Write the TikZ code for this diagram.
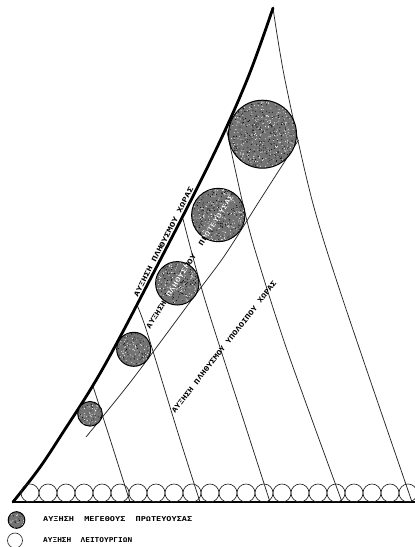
\documentclass[tikz,border=0pt]{standalone}
\usepackage{fontspec}
\usepackage{graphicx}
\newfontfamily\lettering{DejaVu Sans Mono}
\newcommand{\lbl}[2]{\resizebox{#1pt}{5pt}{\lettering\bfseries #2}}
\newcommand{\speckle}[2]{%
  \begin{scope}
    \clip (#1.center) circle[radius=#2pt];
    \pgfmathtruncatemacro{\nd}{#2*#2*0.32}
    \foreach \k in {1,...,\nd} {
      \fill[white] (#1.center) ++({rand*#2},{rand*#2}) circle[radius=0.5pt];
      \fill[black] (#1.center) ++({rand*#2},{rand*#2}) circle[radius=0.5pt];
    }
  \end{scope}}
\begin{document}
\begin{tikzpicture}[x=1pt,y=-1pt,
  guide/.style={line width=0.75pt, black!85, line join=round},
  heavy/.style={line width=2.8pt, line cap=round, line join=round},
  popc/.style={circle, draw=black, line width=1pt, fill=black!55, inner sep=0pt},
  func/.style={circle, draw=black!85, line width=0.65pt, inner sep=0pt, minimum size=18pt},
  lab/.style={inner sep=0pt, anchor=center, text=black},
  wlab/.style={inner sep=0pt, anchor=center, text=white}]
\useasboundingbox (0,0) rectangle (415,547);
\pgfmathsetseed{7}

% slanted family of curves
\draw[guide] plot[smooth] coordinates {(92.6,385) (111,442) (130,502)};
\draw[guide] plot[smooth] coordinates {(137,305) (147,332) (178,433) (200,502)};
\draw[guide] plot[smooth] coordinates {(183,219) (205,300) (250,440) (270,502)};
\draw[guide] plot[smooth] coordinates {(226,127) (242,200) (255,250) (287,350) (342,502)};
\draw[guide] plot[smooth] coordinates {(273,8) (285,80) (312,200) (343,300) (412,502)};
% thin line below the capital circles
\draw[guide] plot[smooth] coordinates {(86,437) (132,380) (193,298) (225,255) (260,200) (298.5,140)};
% baseline
\draw[line width=1.3pt] (13,502) -- (415,502);
% thick line
\draw[heavy] plot[smooth, tension=0.6] coordinates {(13,502) (38,470) (60,437) (102,370) (155,270) (211,160) (247,80) (273,8)};

% row of function circles
\foreach \i in {0,...,21} \node[func] (f\i) at ({30+18*\i},493) {};

% capital circles
\node[popc, minimum size=24.6pt] (c1) at (90,413.8) {};
\node[popc, minimum size=34pt] (c2) at (133.7,349.3) {};
\node[popc, minimum size=43.4pt] (c3) at (177.3,283.3) {};
\node[popc, minimum size=53.4pt] (c4) at (218.3,215) {};
\node[popc, minimum size=68pt] (c5) at (262.5,134.2) {};
\speckle{c1}{11.7}
\speckle{c2}{16.4}
\speckle{c3}{21.1}
\speckle{c4}{26.1}
\speckle{c5}{33.4}

% labels
\node[lab, rotate=62.8] (l1) at (163.5,242) {\lbl{122}{ΑΥΞΗΣΗ ΠΛΗΘΥΣΜΟΥ ΧΩΡΑΣ}};
\node[lab, rotate=57.7] (l2a) at (156.3,314.9) {\lbl{31}{ΑΥΞΗΣΗ}};
\node[lab, rotate=57.7] (l2b) at (181.1,275.5) {\lbl{50}{ΠΛΗΘΥΣΜΟΥ}};
\node[lab, rotate=57.7] (l2c) at (216.1,220.1) {\lbl{59}{ΠΡΩΤΕΥΟΥΣΑΣ}};
\begin{scope}
  \clip (c3.center) circle[radius=21pt];
  \node[wlab, rotate=57.7] (w2b) at (181.1,275.5) {\lbl{50}{ΠΛΗΘΥΣΜΟΥ}};
\end{scope}
\begin{scope}
  \clip (c4.center) circle[radius=26pt];
  \node[wlab, rotate=57.7] (w2c) at (216.1,220.1) {\lbl{59}{ΠΡΩΤΕΥΟΥΣΑΣ}};
\end{scope}
\node[lab, rotate=51.9] (l3) at (224,347) {\lbl{165}{ΑΥΞΗΣΗ\ ΠΛΗΘΥΣΜΟΥ\ ΥΠΟΛΟΙΠΟΥ\ ΧΩΡΑΣ}};

% legend
\node[popc, minimum size=16.6pt] (k1) at (16.5,520) {};
\speckle{k1}{7.8}
\node[circle, draw=black!85, line width=0.65pt, inner sep=0pt, minimum size=15pt] (k2) at (15,540.5) {};
\node[lab, anchor=west] (t1) at (43,519.5) {\lbl{149}{ΑΥΞΗΣΗ\ \ ΜΕΓΕΘΟΥΣ\ \ ΠΡΩΤΕΥΟΥΣΑΣ}};
\node[lab, anchor=west] (t2) at (43,540.5) {\lbl{89}{ΑΥΞΗΣΗ\ \ ΛΕΙΤΟΥΡΓΙΩΝ}};
\end{tikzpicture}
\end{document}
